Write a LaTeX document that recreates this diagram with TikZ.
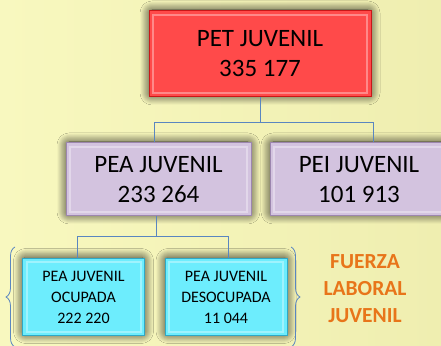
\documentclass[tikz,border=0pt]{standalone}
\usepackage{fontspec}
\setmainfont{Carlito}
\usetikzlibrary{shadows.blur,decorations.pathreplacing}

\definecolor{bgleft}{HTML}{F8F8BF}
\definecolor{bgright}{HTML}{EFEEB0}
\definecolor{petred}{HTML}{FF4A4A}
\definecolor{petedge}{HTML}{C81818}
\definecolor{peapurple}{HTML}{D3C3DF}
\definecolor{peaedge}{HTML}{9C86AE}
\definecolor{ocucyan}{HTML}{6DEDFD}
\definecolor{ocuedge}{HTML}{2FA8C6}
\definecolor{linkblue}{HTML}{5A86C0}
\definecolor{fuerzaorange}{HTML}{E8751A}

\begin{document}
\begin{tikzpicture}[x=1pt, y=1pt,
  box/.style={rectangle, draw, line width=1pt, align=center, inner sep=0pt,
    blur shadow={shadow xshift=0pt, shadow yshift=1pt, shadow blur radius=9pt,
      shadow blur steps=10, shadow opacity=85, shadow blur extra rounding=3pt},
    path picture={\draw[white, opacity=0.35, line width=2pt]
      ([shift={(4pt,4pt)}]path picture bounding box.south west) rectangle
      ([shift={(-4pt,-4pt)}]path picture bounding box.north east);}},
  petbox/.style={box, fill=petred, draw=petedge, minimum width=222pt, minimum height=86pt,
    font=\fontsize{25}{30}\selectfont},
  peabox/.style={box, fill=peapurple, draw=peaedge, minimum height=73pt,
    font=\fontsize{25}{30}\selectfont},
  ocubox/.style={box, fill=ocucyan, draw=ocuedge, minimum width=122pt, minimum height=77pt,
    font=\fontsize{16}{21}\selectfont},
  link/.style={draw=linkblue, line width=0.8pt},
  brace/.style={draw=linkblue, line width=0.8pt, decorate, decoration={brace, amplitude=9pt}},
]
  \useasboundingbox (0,0) rectangle (441,345);
  \clip (0,0) rectangle (441,345);
  % background
  \shade[left color=bgleft, right color=bgright] (0,0) rectangle (441,345);

  % draw the boxes
  \node[petbox] (pet_juvenil) at (260,291) {PET JUVENIL\\335 177};
  \node[peabox, minimum width=185pt] (pea_juvenil) at (158.5,165.5) {PEA JUVENIL\\233 264};
  \node[peabox, minimum width=178pt] (pei_juvenil) at (359,165.5) {PEI JUVENIL\\101 913};
  \node[ocubox] (pea_ocupada) at (83.5,48) {PEA JUVENIL\\OCUPADA\\222 220};
  \node[ocubox] (pea_desocupada) at (226,48) {PEA JUVENIL\\DESOCUPADA\\11 044};

  % draw connectors
  \draw[link] (pet_juvenil.south) -- ++(0,-25) -| ([xshift=-4pt]pea_juvenil.north);
  \draw[link] (pet_juvenil.south) -- ++(0,-25) -| ([xshift=14pt]pei_juvenil.north);
  \draw[link] ([xshift=-2pt]pea_juvenil.south) -- ++(0,-20) -| ([xshift=-6pt]pea_ocupada.north);
  \draw[link] ([xshift=-2pt]pea_juvenil.south) -- ++(0,-20) -| ([xshift=2pt]pea_desocupada.north);

  % braces round the labour force
  \coordinate (brace_left_bot) at (15,-2);
  \coordinate (brace_left_top) at (15,98);
  \coordinate (brace_right_top) at (291,98);
  \coordinate (brace_right_bot) at (291,-2);
  \draw[brace] (brace_left_bot) -- (brace_left_top);
  \draw[brace] (brace_right_top) -- (brace_right_bot);

  \node[align=center, text=fuerzaorange, font=\fontsize{21.5}{27}\selectfont\bfseries]
    (fuerza_laboral) at (365,56) {FUERZA\\LABORAL\\JUVENIL};
\end{tikzpicture}
\end{document}
